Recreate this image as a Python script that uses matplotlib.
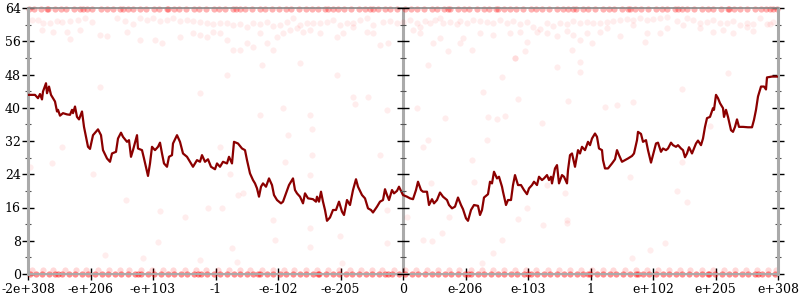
import matplotlib.pyplot as plt

# x is an ordinal position across all doubles: 0..750, one label every 62.5
tick_pos = [0, 62.5, 125, 187.5, 250, 312.5, 375, 437.5, 500, 562.5, 625, 687.5, 750]
tick_labels = ['-2e+308', '-e+206', '-e+103', '-1', '-e-102', '-e-205', '0',
               'e-206', 'e-103', '1', 'e+102', 'e+205', 'e+308']
y_ticks = [0, 8, 16, 24, 32, 40, 48, 56, 64]

# averaged error (dark red line)
line_x = [0, 7, 10, 12, 14, 15, 18, 19, 21, 23, 25, 27, 29, 30, 32, 35, 39, 42, 44, 45,
          47, 49, 51, 54, 56, 58, 60, 62, 65, 70, 73, 75, 79, 82, 84, 88, 90, 93, 95, 99,
          101, 103, 105, 109, 110, 114, 116, 120, 122, 124, 127, 130, 132, 134, 136, 139, 141, 144, 145, 149,
          152, 155, 159, 162, 165, 169, 172, 174, 177, 180, 183, 187, 189, 192, 195, 199, 201, 204, 206, 210,
          214, 217, 219, 222, 225, 227, 229, 231, 233, 235, 238, 241, 244, 246, 249, 253, 255, 258, 261, 265,
          267, 269, 272, 275, 277, 280, 285, 288, 289, 291, 293, 295, 297, 299, 302, 305, 308, 311, 314, 316,
          319, 322, 325, 328, 330, 334, 337, 340, 343, 345, 349, 352, 355, 357, 359, 361, 364, 366, 369, 371,
          375, 379, 382, 385, 388, 390, 393, 395, 399, 401, 404, 406, 409, 412, 415, 419, 421, 424, 427, 430,
          433, 435, 438, 440, 443, 446, 450, 452, 454, 456, 460, 462, 464, 466, 469, 471, 474, 475, 478, 480,
          483, 485, 487, 490, 493, 496, 499, 501, 504, 506, 509, 511, 514, 516, 519, 521, 523, 524, 527, 529,
          531, 534, 536, 539, 540, 542, 544, 547, 550, 552, 554, 557, 560, 562, 564, 567, 569, 571, 574, 575,
          577, 580, 584, 587, 589, 591, 594, 597, 600, 604, 606, 609, 610, 613, 615, 618, 620, 623, 625, 628,
          630, 633, 635, 638, 640, 643, 645, 648, 650, 653, 655, 657, 659, 661, 664, 666, 668, 670, 673, 675,
          677, 679, 682, 685, 686, 688, 690, 692, 695, 696, 698, 700, 703, 705, 707, 709, 711, 715, 720, 724,
          726, 728, 730, 733, 736, 738, 739, 744, 750]
line_y = [43.1, 43.1, 42.3, 43.3, 42.0, 43.9, 45.9, 43.5, 45.1, 43.1, 42.3, 41.5, 39.1, 39.5, 38.1, 38.7, 38.4, 38.3, 39.5, 38.7,
          40.3, 37.8, 37.2, 39.1, 35.4, 33.0, 30.6, 30.1, 33.4, 34.8, 33.4, 29.8, 27.8, 27.0, 29.0, 29.4, 32.6, 34.0, 33.0, 31.8,
          32.2, 28.2, 29.8, 33.4, 30.2, 29.8, 27.8, 23.6, 26.6, 30.6, 29.8, 30.6, 31.6, 29.0, 26.6, 25.8, 28.2, 28.6, 31.4, 33.4,
          31.8, 29.0, 28.2, 27.0, 25.8, 27.4, 27.0, 28.6, 27.0, 27.6, 25.8, 25.2, 26.6, 25.8, 27.0, 26.6, 28.2, 26.6, 31.8, 31.4,
          30.2, 29.8, 27.4, 24.2, 22.6, 21.8, 20.6, 18.6, 21.0, 21.8, 21.0, 23.0, 21.4, 19.0, 17.8, 17.0, 17.4, 19.4, 21.4, 23.0,
          20.2, 19.4, 18.6, 17.0, 19.4, 18.2, 18.0, 17.4, 18.6, 17.4, 19.8, 17.4, 15.4, 12.8, 13.6, 15.4, 15.4, 17.4, 15.0, 14.2,
          17.8, 16.6, 20.2, 22.8, 21.0, 19.0, 18.2, 15.8, 15.4, 14.8, 16.2, 17.4, 17.8, 20.4, 19.0, 17.8, 20.2, 19.4, 20.0, 21.0,
          19.0, 18.6, 18.2, 18.0, 20.2, 22.2, 20.2, 19.8, 19.8, 16.6, 18.0, 17.0, 17.8, 19.6, 18.6, 17.8, 16.6, 15.8, 16.2, 18.4,
          16.6, 15.6, 13.4, 12.8, 15.4, 16.6, 16.4, 14.2, 15.4, 18.4, 19.2, 22.2, 21.8, 24.6, 23.0, 23.4, 21.0, 19.8, 16.6, 17.8,
          17.8, 21.4, 23.8, 21.4, 21.4, 20.2, 19.2, 20.6, 21.4, 22.2, 21.4, 23.4, 22.6, 23.0, 23.8, 22.6, 23.4, 21.8, 25.4, 26.2,
          21.8, 23.8, 23.4, 21.8, 25.0, 28.6, 29.0, 25.8, 29.8, 29.0, 30.6, 29.8, 31.8, 31.0, 32.6, 33.8, 33.0, 30.2, 29.8, 27.4,
          25.4, 25.4, 26.6, 27.6, 29.8, 28.6, 27.0, 27.4, 27.8, 28.4, 29.0, 32.2, 34.2, 33.7, 31.8, 32.2, 29.8, 26.8, 28.6, 31.4,
          31.6, 29.4, 30.2, 29.8, 30.2, 31.6, 31.0, 30.6, 31.0, 30.2, 29.8, 28.1, 29.0, 30.5, 29.0, 30.2, 31.4, 32.1, 31.0, 32.6,
          35.4, 37.5, 37.8, 39.9, 39.5, 43.1, 42.3, 41.1, 39.9, 37.8, 39.5, 37.8, 34.6, 34.2, 35.4, 37.2, 35.4, 35.4, 35.3, 35.3,
          37.1, 39.5, 42.7, 45.1, 45.1, 44.4, 47.3, 47.5, 47.5]

# individual sample points: dense band at 64 bits of error
top_x = [1, 6, 13, 19, 27, 33, 38, 46, 52, 59, 64, 73, 79, 85, 92, 100, 105, 112, 118, 126,
         131, 139, 146, 151, 158, 166, 171, 178, 186, 191, 197, 205, 212, 217, 224, 232, 237, 244, 251, 258,
         263, 271, 278, 284, 290, 297, 305, 310, 316, 323, 331, 337, 342, 350, 357, 362, 369, 377, 383, 389,
         396, 404, 409, 416, 422, 430, 436, 441, 449, 456, 461, 468, 476, 482, 488, 495, 503, 508, 514, 521,
         529, 535, 540, 548, 555, 560, 567, 575, 581, 586, 594, 602, 607, 613, 620, 628, 634, 639, 647, 654,
         659, 666, 674, 680, 685, 693, 701, 706, 712, 719, 727, 733, 738, 745, 749,
         20, 55, 95, 140, 208, 300, 345, 420, 470, 545, 600, 650, 700, 742]
top_y = 63.7

# band at 0 bits and a lighter row at about 1 bit
zero_x = [2, 8, 14, 21, 27, 34, 41, 47, 54, 60, 67, 74, 80, 87, 93, 100, 107, 113, 120, 126,
          133, 140, 146, 153, 159, 166, 173, 179, 186, 192, 199, 206, 212, 219, 225, 232, 239, 245, 252, 258,
          265, 272, 278, 285, 291, 298, 305, 311, 318, 324, 331, 338, 344, 351, 357, 364, 371, 377, 384, 390,
          397, 404, 410, 417, 423, 430, 437, 443, 450, 456, 463, 470, 476, 483, 489, 496, 503, 509, 516, 522,
          529, 536, 542, 549, 555, 562, 569, 575, 582, 588, 595, 602, 608, 615, 621, 628, 635, 641, 648, 654,
          661, 668, 674, 681, 687, 694, 701, 707, 714, 720, 727, 734, 740, 747,
          30, 110, 170, 230, 290, 360, 440, 500, 560, 610, 680, 730]
zero_y = 0
one_x = [4, 15, 25, 37, 48, 58, 70, 81, 92, 101, 113, 124, 135, 145, 157, 168, 178, 190, 201, 212,
         222, 234, 245, 256, 266, 278, 289, 300, 311, 322, 333, 344, 354, 366, 377, 388, 399, 410, 421, 431,
         443, 454, 465, 476, 487, 498, 508, 520, 531, 542, 553, 564, 575, 585, 597, 608, 619, 630, 641, 652,
         662, 674, 685, 696, 707, 718, 729, 740, 748]
one_y = 1

# scattered points between the bands
pts_x = [4, 10, 15, 22, 29, 34, 42, 50, 57, 64, 14, 25, 39, 52, 79, 89, 97, 105, 112, 119,
         125, 132, 139, 145, 152, 159, 165, 172, 179, 185, 192, 199, 205, 212, 219, 225, 232, 239, 245, 252,
         259, 265, 272, 279, 285, 292, 299, 305, 312, 319, 325, 332, 339, 345, 355, 362, 369,
         42, 72, 99, 112, 127, 134, 152, 165, 172, 179, 185, 192, 199, 205, 212, 219, 225, 232, 239,
         245, 249, 255, 262, 269, 275, 282, 292, 309, 315, 325, 339, 345, 360, 352,
         375, 382, 389, 392, 397, 402, 407, 412, 415, 422, 429, 432, 439, 445, 452, 459, 465, 472, 479, 485,
         492, 499, 505, 512, 519, 525, 532, 539, 545, 552, 559, 565, 572, 579, 585, 592, 599, 605, 612, 619,
         625, 632, 639, 649, 659, 665, 672, 679, 685, 692, 699, 705, 712, 719, 725, 732, 739, 745,
         385, 392, 405, 412, 432, 435, 444, 452, 465, 482, 492, 499, 509, 519, 529, 539, 545, 552, 559, 564,
         572, 579, 592, 605, 619, 632, 639, 655, 672, 685, 695, 705, 719, 725, 742, 420, 487, 497, 544, 617,
         72, 172, 255, 282, 284, 325, 327, 340, 359, 309, 272, 260, 199, 232, 234, 34, 192,
         400, 529, 552, 552, 487, 474, 455, 490, 540, 389, 417, 460, 469, 477, 514, 577, 589, 605, 654,
         700, 682, 400, 459, 395,
         24, 65, 98, 132, 157, 180, 194, 202, 210, 215, 257, 282, 245, 284, 130, 247, 282, 282, 312, 359,
         352, 359, 77, 115, 172, 204, 209, 314, 2,
         444, 379, 395, 404, 414, 403, 421, 446, 474, 465, 454, 490, 499, 515, 519, 537, 539, 539, 602, 604,
         622, 637, 649, 659, 654]
pts_y = [61.1, 61.1, 60.3, 60.5, 60.9, 60.7, 60.9, 61.1, 61.5, 60.7, 58.7, 58.3, 58.3, 58.7, 57.3, 61.5, 60.9, 60.2, 61.5, 61.1,
         61.5, 60.9, 61.1, 61.5, 60.9, 61.1, 60.9, 60.7, 60.3, 60.2, 60.5, 60.3, 59.9, 60.2, 59.5, 60.3, 60.2, 60.7, 59.7, 59.9,
         60.7, 61.5, 59.9, 60.3, 60.5, 60.3, 60.7, 61.1, 59.9, 60.3, 60.5, 61.1, 61.5, 59.9, 60.7, 60.9, 60.5,
         56.5, 57.5, 58.3, 56.3, 56.3, 55.5, 57.1, 57.9, 57.5, 57.1, 58.3, 57.9, 56.3, 53.9, 53.9, 55.5, 54.7, 57.9, 55.5,
         53.9, 57.1, 57.9, 58.7, 59.1, 58.3, 58.7, 57.9, 57.1, 57.9, 59.5, 58.3, 57.9, 55.5, 55.1,
         60.7, 61.1, 60.3, 59.5, 60.9, 60.5, 61.1, 61.5, 60.3, 60.7, 60.2, 60.9, 60.5, 61.1, 60.9, 60.7, 60.3, 61.1, 60.5, 60.9,
         60.2, 60.7, 59.5, 58.9, 60.3, 59.7, 60.5, 60.2, 60.9, 60.5, 60.7, 60.3, 60.5, 60.7, 60.9, 61.1, 61.3, 61.1, 61.5, 61.1,
         61.3, 61.5, 61.8, 60.9, 61.5, 61.1, 60.3, 60.7, 61.1, 60.5, 60.3, 60.9, 59.9, 60.5, 60.2, 61.5, 60.2, 60.7,
         58.7, 57.9, 55.5, 56.7, 55.5, 56.7, 53.9, 57.9, 57.5, 57.9, 58.3, 55.9, 58.3, 57.9, 57.3, 58.5, 57.5, 56.3, 57.9, 55.5,
         58.3, 59.1, 57.3, 59.9, 57.9, 57.9, 59.1, 59.9, 59.1, 58.3, 58.7, 57.9, 59.5, 58.5, 60.2, 53.7, 51.9, 53.7, 53.9, 55.9,
         45.0, 43.5, 40.0, 38.3, 35.0, 42.6, 41.0, 42.6, 39.5, 47.9, 50.7, 33.4, 47.9, 38.3, 50.3, 30.6, 30.6,
         50.3, 49.8, 51.0, 48.6, 52.0, 47.4, 43.8, 42.0, 41.6, 40.0, 37.5, 37.8, 37.3, 38.0, 36.3, 40.2, 40.7, 41.4, 44.5,
         48.4, 35.6, 32.2, 32.2, 30.6,
         26.7, 24.0, 17.8, 15.2, 13.7, 15.9, 15.9, 24.0, 19.0, 19.5, 27.0, 23.8, 13.0, 28.6, 7.7, 8.2, 11.0, 6.5, 9.1, 7.5,
         28.6, 15.4, 4.6, 3.8, 3.4, 6.3, 2.9, 2.6, 25.7,
         27.4, 13.7, 8.2, 7.9, 9.9, 21.9, 13.7, 22.1, 8.2, 5.1, 2.6, 13.2, 15.9, 11.8, 21.4, 19.5, 13.0, 12.3, 23.4, 3.8,
         5.8, 7.5, 20.0, 17.3, 27.0]

plt.rcParams['font.family'] = 'DejaVu Serif'
fig = plt.figure(figsize=(8, 3), dpi=100)
ax = fig.add_axes([28 / 800, 26 / 300, 750 / 800, 266 / 300])

dot = dict(s=20, color='red', linewidths=0, clip_on=False, zorder=2)
ax.scatter(pts_x, pts_y, alpha=0.07, **dot)
ax.scatter(top_x, [top_y] * len(top_x), alpha=0.3, **dot)
ax.scatter(one_x, [one_y] * len(one_x), alpha=0.15, **dot)
ax.scatter(zero_x, [zero_y] * len(zero_x), alpha=0.45, **dot)

ax.plot(line_x, line_y, color='#8b0000', lw=1.6, zorder=3)

ax.set_xlim(0, 750)
ax.set_ylim(0, 64)

# axis look: grey frame, black ticks crossing the frame
for side in ['left', 'right']:
    ax.spines[side].set_color('#aaaaaa')
    ax.spines[side].set_linewidth(2.2)
ax.spines['top'].set_color('#888888')
ax.spines['top'].set_linewidth(1.2)
ax.spines['bottom'].set_color('#aaaaaa')
ax.spines['bottom'].set_linewidth(1.5)
ax.axvline(375, color='#aaaaaa', lw=2.2, zorder=1)

ax.set_xticks(tick_pos)
ax.set_xticklabels(tick_labels)
ax.set_yticks(y_ticks)
ax.set_yticks(range(4, 64, 8), minor=True)
ax.tick_params(axis='y', which='major', direction='inout', length=8.6, width=1,
               right=True, labelsize=9, pad=1)
ax.tick_params(axis='y', which='minor', direction='inout', length=4.3, width=0.8,
               right=True, color='#555555')
ax.tick_params(axis='x', direction='inout', length=8.6, width=1, labelsize=9, pad=2)

# ticks on the middle (zero) axis
ax.plot([375] * len(y_ticks), y_ticks, ls='none', marker='_', ms=8.6, mew=1,
        color='black', clip_on=False, zorder=4)
ax.plot([375] * 8, list(range(4, 64, 8)), ls='none', marker='_', ms=4.3, mew=0.8,
        color='#555555', clip_on=False, zorder=4)

fig.savefig('out.png', dpi=100)
